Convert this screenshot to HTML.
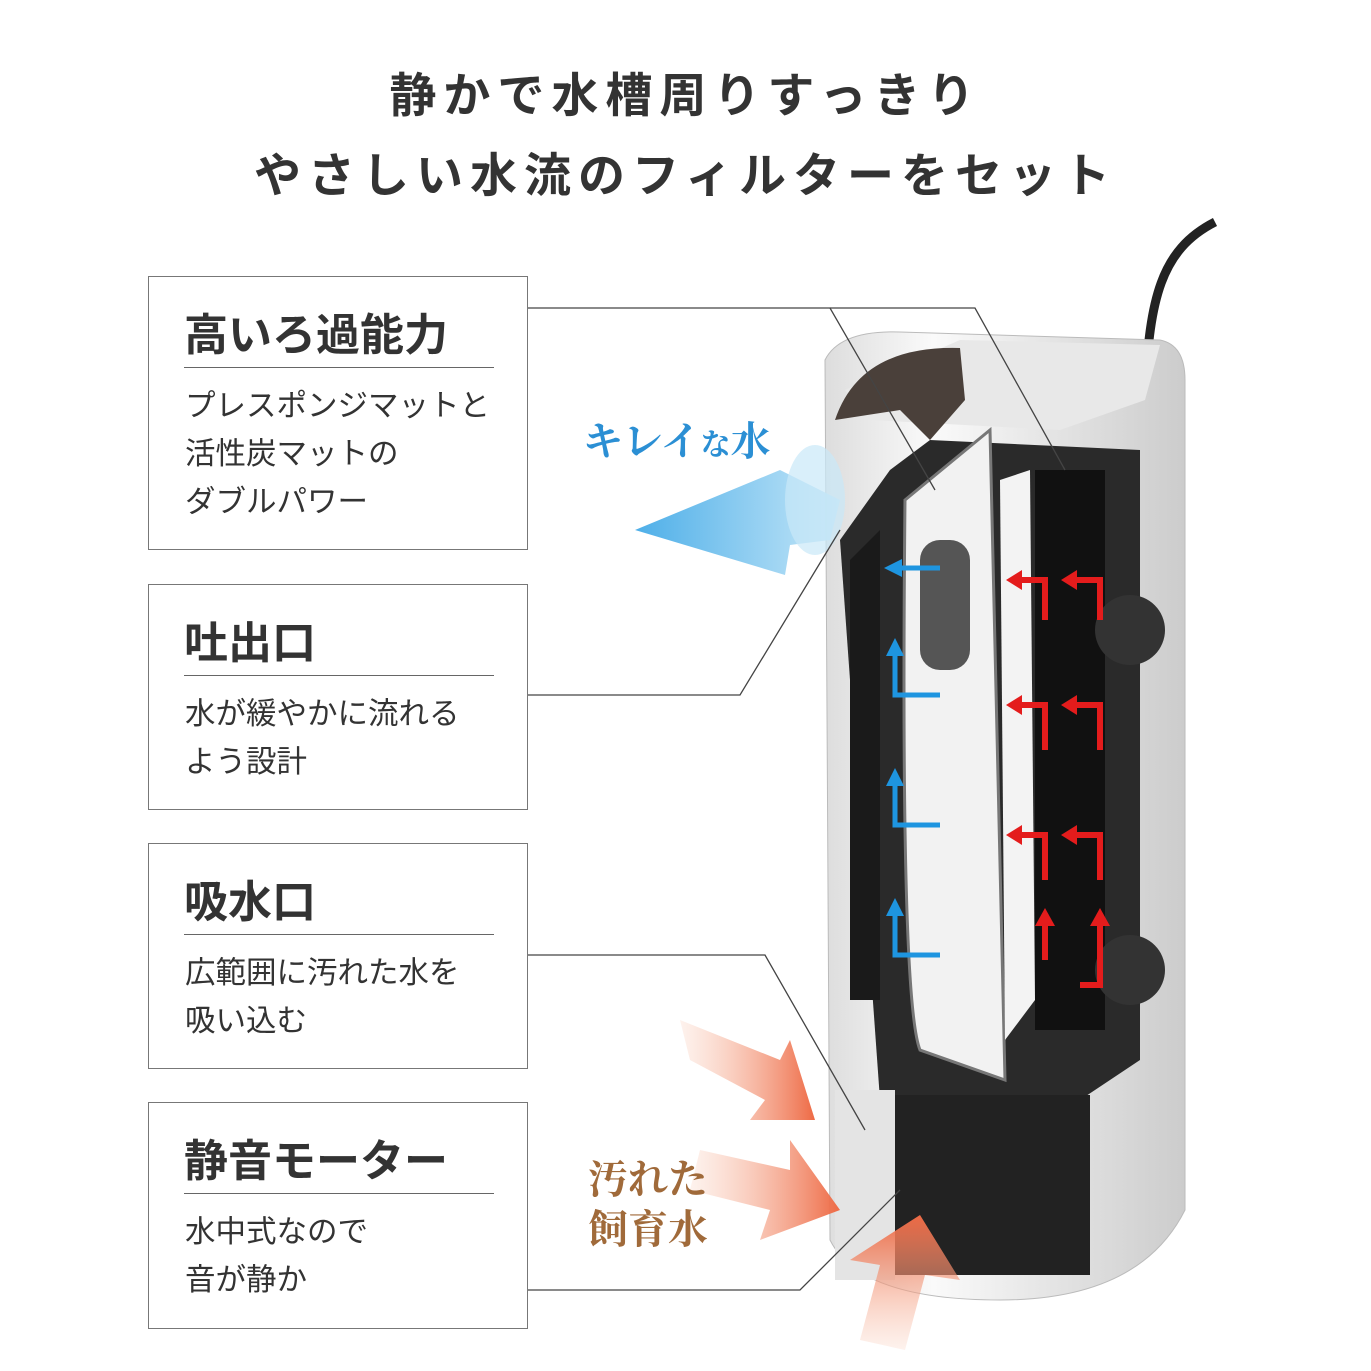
<!DOCTYPE html>
<html><head><meta charset="utf-8"><style>
body{margin:0;width:1371px;height:1371px;background:#fff;overflow:hidden;position:relative;font-family:"Liberation Sans","Noto Sans CJK JP",sans-serif;color:#333}
.t{position:absolute;left:0;width:1371px;text-align:center;font-weight:bold;font-size:47px;letter-spacing:7px}
.box{position:absolute;left:148px;width:378px;border:1.5px solid #777;background:#fff}
.box h2{margin:0;position:absolute;left:35px;top:22px;font-size:44px;font-weight:bold;color:#333;letter-spacing:0px}
.box .ln{position:absolute;left:35px;top:90px;width:310px;border-top:1.5px solid #666}
.box p{margin:0;position:absolute;left:36px;top:105px;font-size:30.5px;line-height:48px;color:#333}
svg{position:absolute;left:0;top:0}
</style></head><body>
<div class="t" style="top:57px">静かで水槽周りすっきり</div>
<div class="t" style="top:137px">やさしい水流のフィルターをセット</div>
<svg width="1371" height="1371">
<defs>
<linearGradient id="bd" x1="0" x2="1"><stop offset="0" stop-color="#ddd"/><stop offset=".3" stop-color="#fafafa"/><stop offset="1" stop-color="#ccc"/></linearGradient>
<linearGradient id="or" x1="0" x2="1"><stop offset="0" stop-color="#f8c0a8" stop-opacity=".2"/><stop offset="1" stop-color="#ee6a45"/></linearGradient>
<linearGradient id="or2" x1="0" y1="1" x2="0" y2="0"><stop offset="0" stop-color="#f8c0a8" stop-opacity=".2"/><stop offset="1" stop-color="#ee6a45"/></linearGradient>
<linearGradient id="bl" x1="1" x2="0"><stop offset="0" stop-color="#bfe4f7"/><stop offset="1" stop-color="#3aa6e6"/></linearGradient>
</defs>
<path d="M1145 390 C1150 300 1160 250 1215 222" stroke="#222" stroke-width="9" fill="none"/>
<path d="M825 360 Q840 330 900 332 L1160 340 Q1185 345 1185 380 L1185 1210 Q1140 1300 1000 1300 Q860 1300 830 1240 Z" fill="url(#bd)" stroke="#bbb"/>
<path d="M845 390 L960 340 L1160 345 L1145 400 L1060 430 L870 420 Z" fill="#e8e8e8"/>
<path d="M835 420 Q860 345 960 348 L965 400 L930 440 L900 410 Z" fill="#4a403a"/>
<path d="M840 540 L890 470 L930 440 L1140 450 L1140 1060 L1080 1100 L880 1100 Z" fill="#2a2a2a"/>
<path d="M850 1000 L850 560 L880 530 L880 1000 Z" fill="#1a1a1a"/>
<path d="M905 500 L990 430 L1005 1080 L920 1050 Q900 1000 905 500Z" fill="#f2f2f2" stroke="#777" stroke-width="3"/>
<rect x="920" y="540" width="50" height="130" rx="20" fill="#555"/>
<path d="M1000 480 L1030 470 L1035 1000 L1005 1040 Z" fill="#f3f3f3"/>
<rect x="1035" y="470" width="70" height="560" fill="#111"/>
<circle cx="1130" cy="630" r="35" fill="#333"/><circle cx="1130" cy="970" r="35" fill="#333"/>
<rect x="880" y="1095" width="210" height="180" fill="#222"/>
<rect x="835" y="1090" width="60" height="190" fill="#e4e4e4"/>
<path d="M635 530 L780 470 L840 500 L830 540 L790 545 L785 575 Z" fill="url(#bl)" opacity=".9"/>
<ellipse cx="815" cy="500" rx="30" ry="55" fill="#c9e8f8" opacity=".7"/>
<g fill="url(#or)">
<path d="M680 1020 L780 1060 L790 1040 L815 1120 L750 1120 L765 1100 L690 1060Z"/>
<path d="M700 1150 L790 1170 L790 1140 L840 1210 L760 1240 L770 1210 L690 1190Z"/>
</g>
<path d="M860 1340 L880 1265 L850 1260 L920 1215 L960 1280 L925 1275 L905 1350Z" fill="url(#or2)"/>
<g stroke="#e41c1c" stroke-width="6" fill="none">
<path d="M1045 620 V580 H1020"/><path d="M1100 620 V580 H1075"/>
<path d="M1045 750 V705 H1020"/><path d="M1100 750 V705 H1075"/>
<path d="M1045 880 V835 H1020"/><path d="M1100 880 V835 H1075"/>
<path d="M1045 960 V925"/><path d="M1080 985 H1100 V925"/>
</g>
<g fill="#e41c1c">
<path d="M1006 580 L1022 570 L1022 590Z"/><path d="M1061 580 L1077 570 L1077 590Z"/>
<path d="M1006 705 L1022 695 L1022 715Z"/><path d="M1061 705 L1077 695 L1077 715Z"/>
<path d="M1006 835 L1022 825 L1022 845Z"/><path d="M1061 835 L1077 825 L1077 845Z"/>
<path d="M1045 908 L1035 926 L1055 926Z"/><path d="M1100 908 L1090 926 L1110 926Z"/>
</g>
<g stroke="#1e95e0" stroke-width="5" fill="none">
<path d="M940 568 H900"/><path d="M940 695 H895 V655"/><path d="M940 825 H895 V785"/><path d="M940 955 H895 V915"/>
</g>
<g fill="#1e95e0">
<path d="M884 568 L902 559 L902 577Z"/><path d="M895 638 L886 656 L904 656Z"/><path d="M895 768 L886 786 L904 786Z"/><path d="M895 898 L886 916 L904 916Z"/>
</g>
<g stroke="#444" stroke-width="1.3" fill="none">
<path d="M528 308 H830 L935 490"/><path d="M830 308 H975 L1065 470"/>
<path d="M528 695 H740 L840 530"/>
<path d="M528 955 H765 L865 1130"/>
<path d="M528 1290 H800 L900 1190"/>
</g>
<text x="583" y="455" font-size="40" font-weight="bold" fill="#2b8fd4" font-family="Liberation Serif,Noto Serif CJK SC,serif">キレイ<tspan font-size="30">な</tspan>水</text>
<text x="588" y="1193" font-size="40" font-weight="bold" fill="#a06a3a" font-family="Liberation Serif,Noto Serif CJK SC,serif">汚れた</text>
<text x="588" y="1243" font-size="40" font-weight="bold" fill="#a06a3a" font-family="Liberation Serif,Noto Serif CJK SC,serif">飼育水</text>
</svg>
<div class="box" style="top:276px;height:272px"><h2>高いろ過能力</h2><div class="ln"></div><p>プレスポンジマットと<br>活性炭マットの<br>ダブルパワー</p></div>
<div class="box" style="top:584px;height:224px"><h2>吐出口</h2><div class="ln"></div><p>水が緩やかに流れる<br>よう設計</p></div>
<div class="box" style="top:843px;height:224px"><h2>吸水口</h2><div class="ln"></div><p>広範囲に汚れた水を<br>吸い込む</p></div>
<div class="box" style="top:1102px;height:225px"><h2>静音モーター</h2><div class="ln"></div><p>水中式なので<br>音が静か</p></div>
</body></html>
